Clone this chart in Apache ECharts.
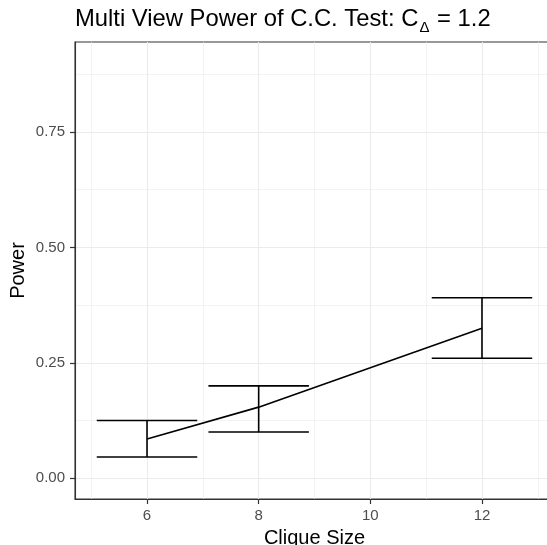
<!DOCTYPE html>
<html>
<head>
<meta charset="utf-8">
<script src="https://cdn.jsdelivr.net/npm/echarts@6/dist/echarts.min.js"></script>
<style>
  html, body { margin: 0; padding: 0; background: #fff; }
  #chart { width: 547px; height: 545px; }
</style>
</head>
<body>
<div id="chart"></div>
<script>
const cliqueSizes = [6, 8, 12];
const powerMean = [0.085, 0.154, 0.325];
const powerLower = [0.046, 0.100, 0.260];
const powerUpper = [0.125, 0.200, 0.391];
const xTickValues = [6, 8, 10, 12];
const xMinorValues = [5, 7, 9, 11, 13];
const yTickValues = [0, 0.25, 0.5, 0.75];
const yMinorValues = [0.125, 0.375, 0.625, 0.875];

const FONT = 'Liberation Sans, Arial, Helvetica, sans-serif';
const xMin = 4.71, xMax = 13.29, yMin = -0.045, yMax = 0.945;
const barHalf = 0.9;

const chart = echarts.init(document.getElementById('chart'), null, { renderer: 'canvas' });

const lineData = cliqueSizes.map((x, i) => [x, powerMean[i]]);
const errData = cliqueSizes.map((x, i) => [x, powerLower[i], powerUpper[i]]);

const axisLineStyle = { show: true, onZero: false, lineStyle: { color: '#333333', width: 1.1 } };
const tickStyle = { color: '#333333', width: 1.2 };

const option = {
  animation: false,
  backgroundColor: '#ffffff',
  title: {
    left: 75, top: 7, padding: 0,
    text: '{a|Multi View Power of C.C. Test: C}{b|Δ}{a| = 1.2}',
    textStyle: {
      rich: {
        a: { fontFamily: FONT, fontSize: 23.8, fontWeight: 'normal', lineHeight: 24, color: '#000', verticalAlign: 'top' },
        b: { fontFamily: FONT, fontSize: 15, fontWeight: 'normal', lineHeight: 15, color: '#000', verticalAlign: 'top', padding: [13, 1, 0, 1] }
      }
    }
  },
  grid: {
    left: 75, top: 42, width: 479, height: 457,
    outerBoundsMode: 'none',
    show: true, backgroundColor: '#ffffff', borderColor: '#333333', borderWidth: 1.1,
    containLabel: false
  },
  xAxis: [
    {
      type: 'value', min: xMin, max: xMax, position: 'bottom',
      axisLine: { show: false, onZero: false },
      axisLabel: { show: false },
      axisTick: { show: false, customValues: xMinorValues },
      splitLine: { show: true, lineStyle: { color: '#EBEBEB', width: 0.6 } }
    },
    {
      type: 'value', min: xMin, max: xMax, position: 'bottom',
      name: 'Clique Size', nameLocation: 'middle', nameGap: 29,
      nameTextStyle: { fontFamily: FONT, fontSize: 20, color: '#000' },
      axisLine: axisLineStyle,
      axisTick: { show: true, inside: false, customValues: xTickValues, length: 5, lineStyle: tickStyle },
      axisLabel: { show: true, customValues: xTickValues, margin: 9, fontFamily: FONT, fontSize: 15, color: '#4D4D4D' },
      splitLine: { show: true, lineStyle: { color: '#EBEBEB', width: 1.1 } }
    }
  ],
  yAxis: [
    {
      type: 'value', min: yMin, max: yMax, position: 'left',
      axisLine: { show: false, onZero: false },
      axisLabel: { show: false },
      axisTick: { show: false, customValues: yMinorValues },
      splitLine: { show: true, lineStyle: { color: '#EBEBEB', width: 0.6 } }
    },
    {
      type: 'value', min: yMin, max: yMax, position: 'left',
      name: 'Power', nameLocation: 'middle', nameGap: 47, nameRotate: 90,
      nameMoveOverlap: false,
      nameTextStyle: { fontFamily: FONT, fontSize: 20, color: '#000' },
      axisLine: axisLineStyle,
      axisTick: { show: true, inside: false, customValues: yTickValues, length: 5, lineStyle: tickStyle },
      axisLabel: {
        show: true, customValues: yTickValues, margin: 10, fontFamily: FONT, fontSize: 15, color: '#4D4D4D',
        formatter: v => Number(v).toFixed(2)
      },
      splitLine: { show: true, lineStyle: { color: '#EBEBEB', width: 1.1 } }
    }
  ],
  series: [
    {
      type: 'custom', xAxisIndex: 1, yAxisIndex: 1, data: errData, silent: true,
      renderItem: function (params, api) {
        const x = api.value(0), lo = api.value(1), hi = api.value(2);
        const top = api.coord([x, hi]);
        const bot = api.coord([x, lo]);
        const tl = api.coord([x - barHalf, hi]);
        const tr = api.coord([x + barHalf, hi]);
        const bl = api.coord([x - barHalf, lo]);
        const br = api.coord([x + barHalf, lo]);
        const style = { stroke: '#000', lineWidth: 1.6, fill: null };
        return {
          type: 'group',
          children: [
            { type: 'line', shape: { x1: top[0], y1: top[1], x2: bot[0], y2: bot[1] }, style: style },
            { type: 'line', shape: { x1: tl[0], y1: tl[1], x2: tr[0], y2: tr[1] }, style: style },
            { type: 'line', shape: { x1: bl[0], y1: bl[1], x2: br[0], y2: br[1] }, style: style }
          ]
        };
      }
    },
    {
      type: 'line', xAxisIndex: 1, yAxisIndex: 1, data: lineData,
      symbol: 'none', silent: true,
      lineStyle: { color: '#000', width: 1.6 }
    }
  ]
};

chart.setOption(option);
</script>
</body>
</html>
